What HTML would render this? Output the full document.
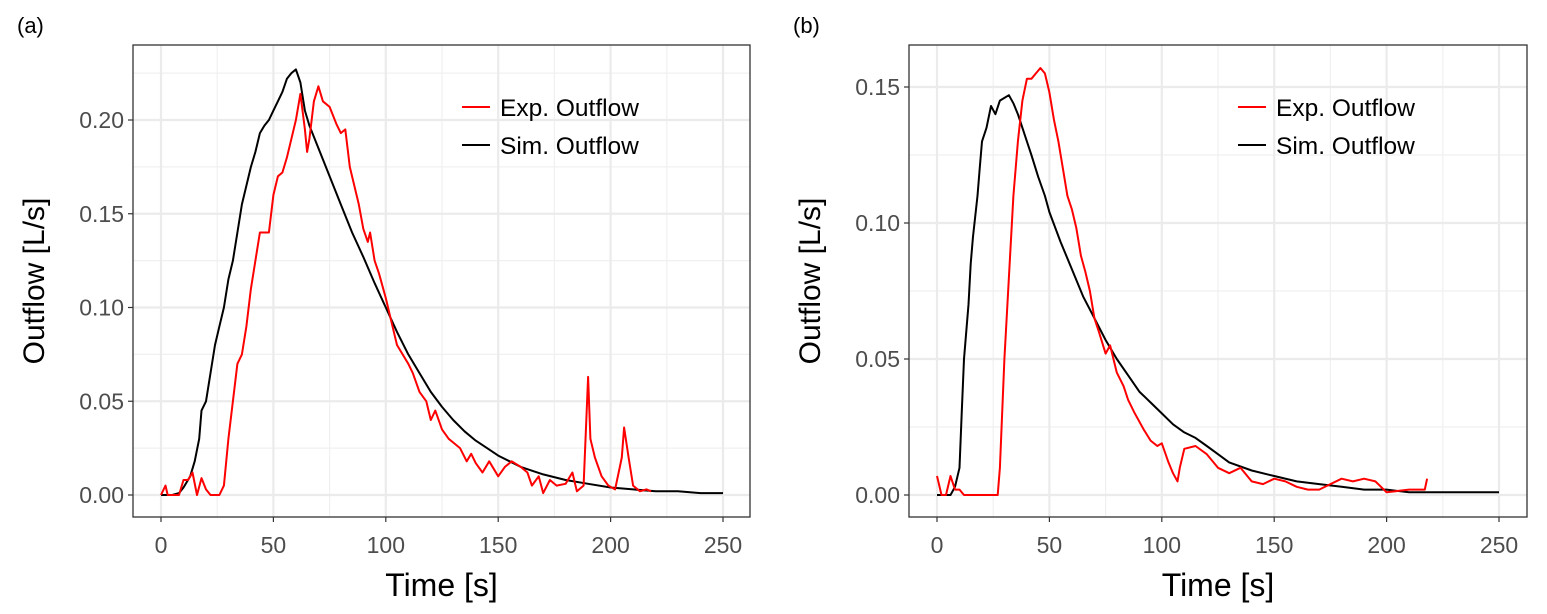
<!DOCTYPE html>
<html><head><meta charset="utf-8"><style>
body{margin:0;background:#fff}
svg{display:block;font-family:"Liberation Sans",sans-serif}
</style></head><body>
<svg id="c" width="1547" height="614" xmlns="http://www.w3.org/2000/svg"></svg>
<script>
const xTicks=[0,50,100,150,200,250];
const yTicksA=[0,0.05,0.10,0.15,0.20];
const yLabelsA=["0.00","0.05","0.10","0.15","0.20"];
const yTicksB=[0,0.05,0.10,0.15];
const yLabelsB=["0.00","0.05","0.10","0.15"];
const seriesNames=["Exp. Outflow","Sim. Outflow"];
const simTA=[0,5,8,10,13,15,17,18,20,22,24,26,28,30,32,34,36,38,40,42,44,46,48,50,52,54,56,58,60,62,64,66,70,75,80,85,90,95,100,105,110,115,120,125,130,135,140,145,150,160,170,180,190,200,210,220,230,240,250];
const simVA=[0,0,0.001,0.004,0.01,0.018,0.03,0.045,0.05,0.065,0.08,0.09,0.1,0.115,0.125,0.14,0.155,0.165,0.175,0.183,0.193,0.197,0.2,0.205,0.21,0.215,0.222,0.225,0.227,0.22,0.205,0.197,0.185,0.17,0.155,0.14,0.127,0.113,0.1,0.087,0.075,0.065,0.055,0.047,0.04,0.034,0.029,0.025,0.021,0.015,0.011,0.008,0.006,0.004,0.003,0.002,0.002,0.001,0.001];
const expTA=[0,2,3,8,10,12,14,16,18,20,22,26,28,30,32,34,36,38,40,42,44,46,48,50,52,54,56,58,60,62,64,65,66,68,70,72,75,78,80,82,84,86,88,90,92,93,95,97,100,103,105,110,112,115,118,120,122,125,128,130,133,136,138,140,143,146,150,153,156,160,163,165,168,170,173,176,180,183,185,188,190,191,193,196,199,202,205,206,208,210,213,216,218];
const expVA=[0,0.005,0,0,0.008,0.008,0.012,0,0.009,0.003,0,0,0.005,0.03,0.05,0.07,0.075,0.09,0.11,0.125,0.14,0.14,0.14,0.16,0.17,0.172,0.18,0.19,0.2,0.214,0.195,0.183,0.19,0.21,0.218,0.21,0.207,0.198,0.193,0.195,0.175,0.165,0.155,0.142,0.135,0.14,0.125,0.118,0.105,0.09,0.08,0.07,0.065,0.055,0.05,0.04,0.045,0.035,0.03,0.028,0.025,0.018,0.022,0.017,0.012,0.018,0.01,0.015,0.018,0.015,0.012,0.005,0.01,0.001,0.008,0.005,0.006,0.012,0.002,0.005,0.063,0.03,0.02,0.01,0.005,0.003,0.02,0.036,0.02,0.005,0.002,0.003,0.002];
const simTB=[0,6,8,10,11,12,14,15,16,18,19,20,22,24,26,28,30,32,34,36,38,40,42,45,48,50,55,60,65,70,75,80,85,90,95,100,105,110,115,120,125,130,140,150,160,170,180,190,200,210,220,230,250];
const simVB=[0,0,0.003,0.01,0.03,0.05,0.07,0.085,0.095,0.11,0.12,0.13,0.135,0.143,0.14,0.145,0.146,0.147,0.144,0.14,0.135,0.13,0.125,0.117,0.11,0.104,0.093,0.083,0.073,0.065,0.057,0.05,0.044,0.038,0.034,0.03,0.026,0.023,0.021,0.018,0.015,0.012,0.009,0.007,0.005,0.004,0.003,0.002,0.002,0.001,0.001,0.001,0.001];
const expTB=[0,2,4,6,8,10,12,27,28,30,32,34,36,38,40,42,44,46,48,50,52,54,56,58,60,62,64,66,68,70,72,75,77,80,83,85,88,92,95,98,100,103,105,107,108,110,115,120,125,130,135,140,145,150,155,160,165,170,175,180,185,190,195,200,210,217,218];
const expVB=[0.007,0,0,0.007,0.002,0.002,0,0,0.01,0.05,0.08,0.11,0.13,0.145,0.153,0.153,0.155,0.157,0.155,0.148,0.138,0.13,0.12,0.11,0.105,0.098,0.088,0.082,0.075,0.065,0.06,0.052,0.055,0.045,0.04,0.035,0.03,0.024,0.02,0.018,0.019,0.012,0.008,0.005,0.01,0.017,0.018,0.015,0.01,0.008,0.01,0.005,0.004,0.006,0.005,0.003,0.002,0.002,0.004,0.006,0.005,0.006,0.005,0.001,0.002,0.002,0.006];

const NS="http://www.w3.org/2000/svg";
const svg=document.getElementById('c');
function el(tag,attrs,parent,text){const e=document.createElementNS(NS,tag);for(const k in attrs)e.setAttribute(k,attrs[k]);if(text!==undefined)e.textContent=text;(parent||svg).appendChild(e);return e;}

function panel(o){
  const g=el('g',{});
  
  
  const L=o.left,R=o.right,T=45,B=517;
  const x0px=o.x0,pxPer=112.4/50;
  const X=t=>x0px+t*pxPer;
  const Y=v=>495-v*o.yPer;
  for(let t=-25;t<=275;t+=50){const x=X(t);if(x>L&&x<R){const m=el('line',{x1:x,x2:x,y1:T,y2:B,stroke:'#f0f0f0','stroke-width':1.2},g);}}
  for(let i=0;i<o.yTicks.length;i++){const v=o.yTicks[i]+0.025;const y=Y(v);if(y>T&&y<B){const m=el('line',{x1:L,x2:R,y1:y,y2:y,stroke:'#f0f0f0','stroke-width':1.2},g);}}
  xTicks.forEach(t=>{const x=X(t);
    const gl=el('line',{x1:x,x2:x,y1:T,y2:B,stroke:'#ebebeb','stroke-width':2.2},g);
    el('line',{x1:x,x2:x,y1:B,y2:B+5,stroke:'#333','stroke-width':1.2},g);
    const tl=el('text',{x:x,y:B+36,'text-anchor':'middle','font-size':23,fill:'#4d4d4d'},g,String(t));
  });
  o.yTicks.forEach((v,i)=>{const y=Y(v);
    const gl=el('line',{x1:L,x2:R,y1:y,y2:y,stroke:'#ebebeb','stroke-width':2.2},g);
    el('line',{x1:L-5,x2:L,y1:y,y2:y,stroke:'#333','stroke-width':1.2},g);
    const tl=el('text',{x:L-9,y:y+8,'text-anchor':'end','font-size':23,fill:'#4d4d4d'},g,o.yLabels[i]);
  });
  function line(ts,vs,color,name){
    const d=ts.map((t,i)=>(i?'L':'M')+X(t).toFixed(1)+','+Y(vs[i]).toFixed(1)).join('');
    const p=el('path',{d:d,fill:'none',stroke:color,'stroke-width':2,'stroke-linejoin':'round'},g);
    
  }
  line(o.simT,o.simV,'#000','sim-outflow-line');
  line(o.expT,o.expV,'#ff0000','exp-outflow-line');
  const fr=el('rect',{x:L,y:T,width:R-L,height:B-T,fill:'none',stroke:'#333','stroke-width':1.3},g);
  const lg=el('g',{},g);
  [['#ff0000',107],['#000',145]].forEach((c,i)=>{
    el('line',{x1:o.legX,x2:o.legX+28,y1:c[1],y2:c[1],stroke:c[0],'stroke-width':2},lg);
    const t=el('text',{x:o.legX+38,y:c[1]+9,'font-size':24.5,fill:'#000'},lg,seriesNames[i]);
  });
  const xt=el('text',{x:(L+R)/2,y:596,'text-anchor':'middle','font-size':32,fill:'#000'},g,'Time [s]');
  const yt=el('text',{x:0,y:0,'text-anchor':'middle','font-size':30,fill:'#000',transform:`translate(${o.yTitleX},${(T+B)/2}) rotate(-90)`},g,'Outflow [L/s]');
  const pl=el('text',{x:o.labX,y:33,'font-size':22,fill:'#000'},g,o.label);
}
panel({name:'panel-a',left:133,right:750,x0:161,yPer:1875,yTicks:yTicksA,yLabels:yLabelsA,simT:simTA,simV:simVA,expT:expTA,expV:expVA,legX:462,yTitleX:44,labX:17,label:'(a)'});
panel({name:'panel-b',left:909,right:1527,x0:937,yPer:2720,yTicks:yTicksB,yLabels:yLabelsB,simT:simTB,simV:simVB,expT:expTB,expV:expVB,legX:1238,yTitleX:820,labX:793,label:'(b)'});
</script>
</body></html>
